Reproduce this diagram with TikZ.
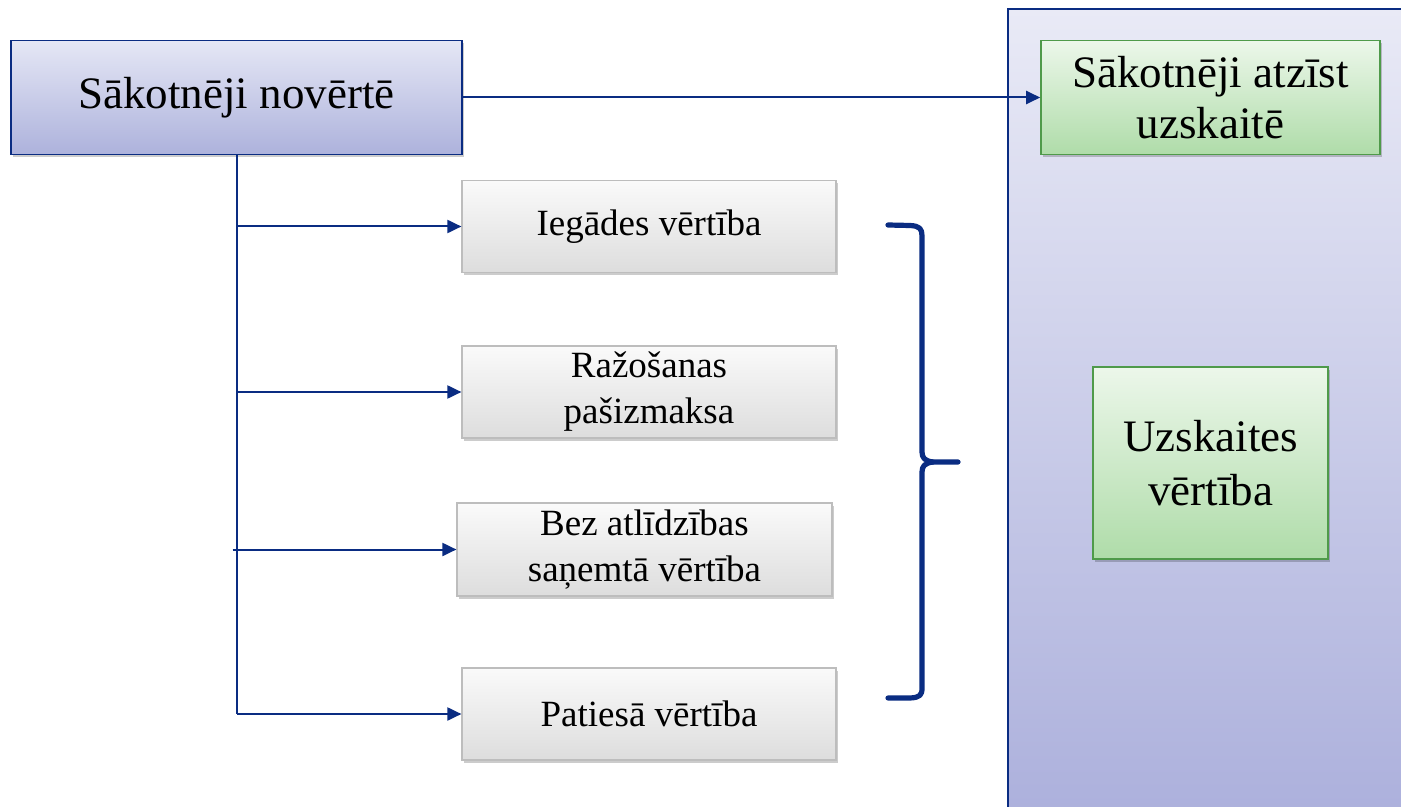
\documentclass[tikz,border=0pt]{standalone}
\usepackage{fontspec}
\setmainfont{Liberation Serif}
\usetikzlibrary{arrows.meta,shadows}
\definecolor{navy}{HTML}{0A2C82}
\definecolor{bluetop}{HTML}{E5E7F5}
\definecolor{bluebot}{HTML}{ADB2DC}
\definecolor{paneltop}{HTML}{E9EAF6}
\definecolor{panelbot}{HTML}{ACB0DC}
\definecolor{greentop}{HTML}{ECF7EA}
\definecolor{greenbot}{HTML}{AFDCA9}
\definecolor{greenline}{HTML}{4F9A4A}
\definecolor{graytop}{HTML}{FAFAFA}
\definecolor{graybot}{HTML}{DDDDDD}
\definecolor{grayline}{HTML}{BDBDBD}
\tikzset{
  softshadow/.style={drop shadow={shadow xshift=1.2pt,shadow yshift=-1.5pt,opacity=0.2,fill=black}},
  bluebox/.style={rectangle,draw=navy,line width=0.8pt,top color=bluetop,bottom color=bluebot,softshadow,
    font=\fontsize{22.5}{26}\selectfont,align=center,inner sep=0pt},
  greenbox/.style={rectangle,draw=greenline,line width=0.8pt,top color=greentop,bottom color=greenbot,softshadow,
    font=\fontsize{22.5}{25.5}\selectfont,align=center,inner sep=0pt},
  graybox/.style={rectangle,draw=grayline,line width=0.6pt,top color=graytop,bottom color=graybot,softshadow,
    minimum width=187pt,minimum height=46pt,font=\fontsize{18.5}{23}\selectfont,align=center,inner sep=0pt},
  conn/.style={draw=navy,line width=1pt},
  arr/.style={conn,-{Triangle[length=7pt,width=6.5pt]}},
  bracestyle/.style={draw=navy,line width=2.6pt,line cap=round,line join=round}
}
\begin{document}
\begin{tikzpicture}[x=0.5pt,y=0.5pt]
\useasboundingbox (0,0) rectangle (1401,-807);
\fill[white] (0,0) rectangle (1401,-807);
% right panel
\path[draw=navy,line width=0.9pt,top color=paneltop,bottom color=panelbot] (1008,-9) rectangle (1412,-818);
% nodes
\node[bluebox,minimum width=225.5pt,minimum height=57pt] (src) at (236.5,-97.5) {Sākotnēji novērtē};
\node[greenbox,minimum width=169.5pt,minimum height=57pt] (rec) at (1210.5,-97.5) {Sākotnēji atzīst\\uzskaitē};
\node[greenbox,minimum width=117.5pt,minimum height=96pt,font=\fontsize{22.5}{27}\selectfont] (val) at (1210.5,-463) {Uzskaites\\vērtība};
\node[graybox] (b1) at (649,-226.5) {Iegādes vērtība};
\node[graybox] (b2) at (649,-392) {Ražošanas\\pašizmaksa};
\node[graybox,minimum width=187.5pt,minimum height=46.5pt] (b3) at (644.5,-549.5) {Bez atlīdzības\\saņemtā vērtība};
\node[graybox] (b4) at (649,-714) {Patiesā vērtība};
% connectors
\draw[arr] (src.east) -- (rec.west);
\draw[conn] (src.south) -- (src.south |- b4.west);
\draw[arr] (src.south |- b1.west) -- (b1.west);
\draw[arr] (src.south |- b2.west) -- (b2.west);
\coordinate (c3) at ([xshift=-2pt]src.south |- b3.west);
\draw[arr] (c3) -- (b3.west);
\draw[arr] (src.south |- b4.west) -- (b4.west);
% brace
\coordinate (brtop) at (888,-225);
\coordinate (brbot) at (888,-698);
\coordinate (brtip) at (958,-462);
\draw[bracestyle] (brtop) -- (910,-225.5) .. controls (920,-226) and (922,-229) .. (922,-236)
  -- (922,-452) .. controls (922,-458) and (925,-461) .. (933,-462) -- (brtip);
\draw[bracestyle] (933,-462) .. controls (925,-463) and (922,-466) .. (922,-472)
  -- (922,-688) .. controls (922,-695) and (920,-697.5) .. (910,-698) -- (brbot);
\end{tikzpicture}
\end{document}
